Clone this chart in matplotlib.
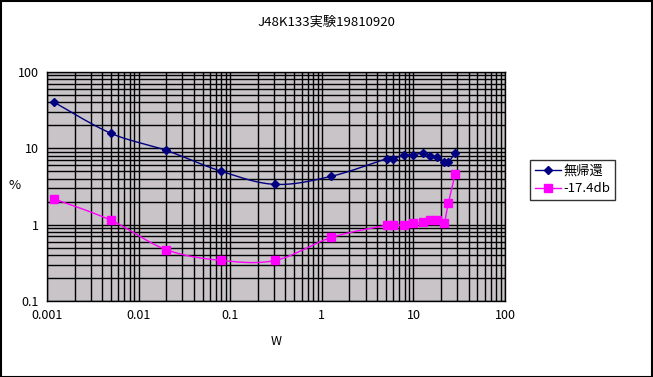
import matplotlib
matplotlib.use("Agg")
import matplotlib.pyplot as plt
from matplotlib.ticker import LogLocator, FixedFormatter, FixedLocator, NullFormatter
import numpy as np

plt.rcParams['font.family'] = ['Noto Sans CJK JP', 'DejaVu Sans']

# 出力 (W)
w_nfb = [0.0012, 0.005, 0.02, 0.08, 0.31, 1.27, 5.1, 6.0, 7.9, 10, 12.7, 15, 18, 21.4, 24, 28.5]
# 歪率 (%) 無帰還
d_nfb = [40, 15.7, 9.4, 5.0, 3.37, 4.3, 7.3, 7.3, 8.2, 8.2, 8.7, 7.9, 7.7, 6.6, 6.6, 8.7]

w_fb = [0.0012, 0.005, 0.02, 0.08, 0.31, 1.27, 5.1, 6.0, 7.9, 10, 12.7, 15, 18, 21.4, 24, 28.5]
# 歪率 (%) -17.4db
d_fb = [2.17, 1.14, 0.47, 0.34, 0.34, 0.68, 0.98, 0.98, 0.98, 1.04, 1.08, 1.14, 1.14, 1.04, 1.9, 4.56]

x_ticks = [0.001, 0.01, 0.1, 1, 10, 100]
x_labels = ['0.001', '0.01', '0.1', '1', '10', '100']
y_ticks = [0.1, 1, 10, 100]
y_labels = ['0.1', '1', '10', '100']


def smooth(x, y, n=20):
    # Excel風の平滑線 (対数空間でのベジェ)
    lx, ly = np.log10(x), np.log10(y)
    px, py = [], []
    for i in range(len(lx) - 1):
        i0, i3 = max(i - 1, 0), min(i + 2, len(lx) - 1)
        c1x = lx[i] + (lx[i + 1] - lx[i0]) / 6
        c1y = ly[i] + (ly[i + 1] - ly[i0]) / 6
        c2x = lx[i + 1] - (lx[i3] - lx[i]) / 6
        c2y = ly[i + 1] - (ly[i3] - ly[i]) / 6
        t = np.linspace(0, 1, n)
        bx = (1-t)**3*lx[i] + 3*(1-t)**2*t*c1x + 3*(1-t)*t**2*c2x + t**3*lx[i+1]
        by = (1-t)**3*ly[i] + 3*(1-t)**2*t*c1y + 3*(1-t)*t**2*c2y + t**3*ly[i+1]
        px.extend(bx)
        py.extend(by)
    return 10**np.array(px), 10**np.array(py)


fig = plt.figure(figsize=(6.53, 3.77), dpi=100)
fig.patch.set_facecolor('white')
ax = fig.add_axes([0.072, 0.2016, 0.7014, 0.6074])
ax.set_facecolor('#c8c4c8')

ax.set_xscale('log')
ax.set_yscale('log')
ax.set_xlim(0.001, 100)
ax.set_ylim(0.1, 100)

ax.xaxis.set_major_locator(FixedLocator(x_ticks))
ax.xaxis.set_major_formatter(FixedFormatter(x_labels))
ax.yaxis.set_major_locator(FixedLocator(y_ticks))
ax.yaxis.set_major_formatter(FixedFormatter(y_labels))
ax.xaxis.set_minor_locator(LogLocator(base=10, subs=np.arange(2, 10), numticks=20))
ax.yaxis.set_minor_locator(LogLocator(base=10, subs=np.arange(2, 10), numticks=20))
ax.xaxis.set_minor_formatter(NullFormatter())
ax.yaxis.set_minor_formatter(NullFormatter())
ax.grid(True, which='both', color='black', linewidth=1.0)
ax.set_axisbelow(True)
ax.tick_params(which='both', length=0, labelsize=9, pad=6)
for s in ax.spines.values():
    s.set_color('black')
    s.set_linewidth(1.0)

sx, sy = smooth(w_nfb, d_nfb)
ax.plot(sx, sy, color='#000080', linewidth=1, zorder=3)
ax.plot(w_nfb, d_nfb, linestyle='none', marker='D', markersize=4.5,
        color='#000080', zorder=4)
sx, sy = smooth(w_fb, d_fb)
ax.plot(sx, sy, color='#ff00ff', linewidth=1, zorder=3)
ax.plot(w_fb, d_fb, linestyle='none', marker='s', markersize=5.5,
        color='#ff00ff', zorder=4)

# 凡例用ダミー
h1, = ax.plot([], [], color='#000080', linewidth=1, marker='D', markersize=4.5, label='無帰還')
h2, = ax.plot([], [], color='#ff00ff', linewidth=1, marker='s', markersize=5.5, label='-17.4db')
leg = fig.legend(handles=[h1, h2], loc='upper left', bbox_to_anchor=(0.8116, 0.5756),
                 frameon=True, fancybox=False, edgecolor='black', fontsize=9.5,
                 handlelength=2.0, handletextpad=0.2, borderpad=0.35, labelspacing=0.35,
                 borderaxespad=0)
leg.get_frame().set_linewidth(1)

fig.text(0.5, 0.94, 'J48K133実験19810920', ha='center', va='center', fontsize=9.5)
fig.text(0.023, 0.507, '%', ha='center', va='center', fontsize=9.5)
fig.text(0.423, 0.095, 'W', ha='center', va='center', fontsize=9)

border = plt.Rectangle((0.001, 0.001), 0.997, 0.997, transform=fig.transFigure,
                       fill=False, edgecolor='black', linewidth=1.5)
fig.patches.append(border)

fig.savefig('out.png', dpi=100)
